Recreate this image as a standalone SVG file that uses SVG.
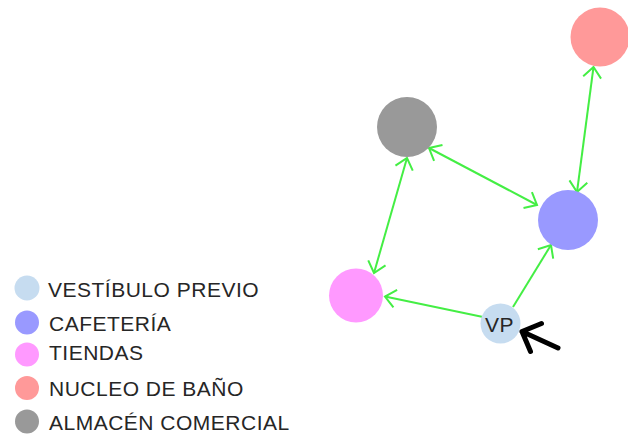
<svg xmlns="http://www.w3.org/2000/svg" width="628" height="438" viewBox="0 0 628 438">
<style>
.lbl{font-family:"Liberation Sans",Arial,sans-serif;font-size:21px;fill:#262626;letter-spacing:0.5px}
.edge{stroke:#44ee44;stroke-width:2;fill:none}
</style>
<defs>
<marker id="ah" markerUnits="userSpaceOnUse" viewBox="-14 -12 16 24" refX="0" refY="0" markerWidth="16" markerHeight="24" orient="auto-start-reverse">
<path d="M-10.5,-9 L0,0 L-10.5,9" fill="none" stroke="#44ee44" stroke-width="2"/>
</marker>
</defs>
<rect width="628" height="438" fill="#ffffff"/>
<g id="connectors">
<line class="edge" x1="593.5" y1="67" x2="577" y2="192" marker-start="url(#ah)" marker-end="url(#ah)"/>
<line class="edge" x1="429" y1="148" x2="537" y2="205" marker-start="url(#ah)" marker-end="url(#ah)"/>
<line class="edge" x1="407" y1="158" x2="374" y2="273" marker-start="url(#ah)" marker-end="url(#ah)"/>
<line class="edge" x1="483" y1="317" x2="385" y2="296.5" marker-end="url(#ah)"/>
<line class="edge" x1="513" y1="307" x2="551" y2="245" marker-end="url(#ah)"/>
</g>
<g id="node-nucleo"><circle cx="600" cy="37" r="29.5" fill="#ff9999"/></g>
<g id="node-almacen"><circle cx="407" cy="127" r="30" fill="#999999"/></g>
<g id="node-cafeteria"><circle cx="568" cy="220" r="30" fill="#9999ff"/></g>
<g id="node-tiendas"><circle cx="356" cy="295.5" r="27" fill="#ff99ff"/></g>
<g id="node-vp">
<circle cx="500.5" cy="323.5" r="20" fill="#c6dcf0"/>
<text class="lbl" x="499.5" y="332" text-anchor="middle" letter-spacing="0">VP</text>
</g>
<g id="pointer">
<path d="M558,348 L522,331.5 M541.5,323.5 L522,331.5 L530.5,351.5" fill="none" stroke="#000000" stroke-width="5" stroke-linecap="round" stroke-linejoin="round"/>
</g>
<g id="legend">
<circle cx="27" cy="288" r="12.5" fill="#c6dcf0"/>
<text class="lbl" x="48" y="297">VESTÍBULO PREVIO</text>
<circle cx="27" cy="322.5" r="12" fill="#9999ff"/>
<text class="lbl" x="49" y="331">CAFETERÍA</text>
<circle cx="27" cy="354.5" r="12" fill="#ff99ff"/>
<text class="lbl" x="49" y="360">TIENDAS</text>
<circle cx="27" cy="388" r="12" fill="#ff9999"/>
<text class="lbl" x="49" y="396">NUCLEO DE BAÑO</text>
<circle cx="27" cy="421.5" r="12" fill="#999999"/>
<text class="lbl" x="49" y="430">ALMACÉN COMERCIAL</text>
</g>
</svg>
